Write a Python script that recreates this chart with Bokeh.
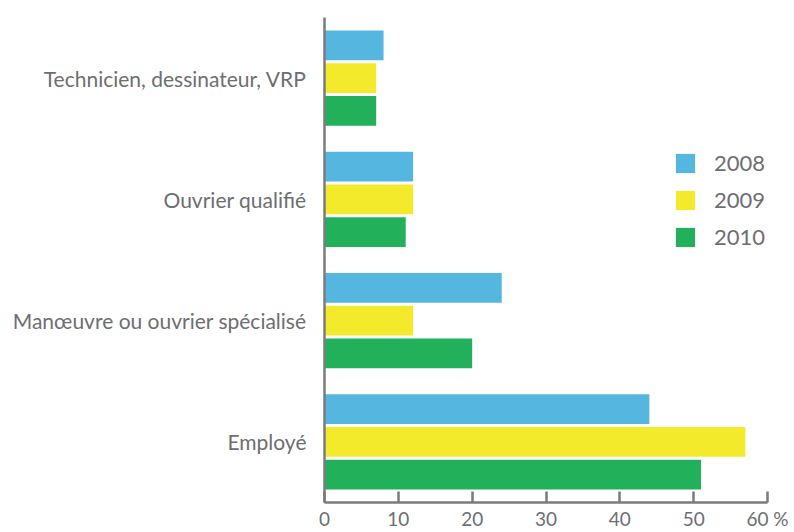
from bokeh.plotting import figure
from bokeh.models import FactorRange, Range1d, Legend, LegendItem, ColumnDataSource, FixedTicker
from bokeh.transform import dodge
from bokeh.embed import file_html
from bokeh.resources import INLINE

categories = ["Technicien, dessinateur, VRP", "Ouvrier qualifié",
              "Manœuvre ou ouvrier spécialisé", "Employé"]
years = ["2008", "2009", "2010"]
v2008 = [8, 12, 24, 44]
v2009 = [7, 12, 12, 57]
v2010 = [7, 11, 20, 51]
x_ticks = [0, 10, 20, 30, 40, 50, 60]
x_tick_labels = ["0", "10", "20", "30", "40", "50", "60 %"]
colors = ["#55b6e0", "#f3ea2c", "#22b15a"]

FONT = "Lato"
TEXT = "#6d6e71"
AXIS = "#7a7b7e"

src = ColumnDataSource(dict(cat=categories, y2008=v2008, y2009=v2009, y2010=v2010))

p = figure(width=794, height=532,
           y_range=FactorRange(factors=list(reversed(categories)), range_padding=0),
           x_range=Range1d(0, 60),
           output_backend="svg", toolbar_location=None,
           min_border_left=324, min_border_right=27, min_border_top=17, min_border_bottom=0)

offsets = [0.27, 0.0, -0.27]
renderers = []
for yr, col, off in zip(years, colors, offsets):
    r = p.hbar(y=dodge("cat", off, range=p.y_range), left=0, right="y" + yr,
               height=0.247, source=src, fill_color=col, line_color=None)
    renderers.append(r)

legend = Legend(items=[LegendItem(label=yr, renderers=[r]) for yr, r in zip(years, renderers)],
                location=(349, 252), glyph_width=24, glyph_height=24, spacing=10,
                label_standoff=17, padding=0, margin=0,
                label_text_font=FONT, label_text_font_size="22px", label_text_color=TEXT,
                border_line_color=None, background_fill_alpha=0)
p.add_layout(legend)

p.xgrid.visible = False
p.ygrid.visible = False
p.outline_line_color = None

xa = p.xaxis[0]
xa.ticker = FixedTicker(ticks=x_ticks)
xa.major_label_overrides = {t: s for t, s in zip(x_ticks, x_tick_labels)}
xa.bounds = (0, 60)
xa.axis_line_color = AXIS
xa.axis_line_width = 2.5
xa.major_tick_line_color = AXIS
xa.major_tick_line_width = 2.5
xa.major_tick_in = 11
xa.major_tick_out = 0
xa.minor_tick_line_color = None
xa.major_label_text_font = FONT
xa.major_label_text_font_size = "19px"
xa.major_label_text_color = TEXT
xa.major_label_standoff = 4

ya = p.yaxis[0]
ya.axis_line_color = AXIS
ya.axis_line_width = 2.5
ya.major_tick_line_color = None
ya.minor_tick_line_color = None
ya.major_label_text_font = FONT
ya.major_label_text_font_size = "21px"
ya.major_label_text_color = TEXT
ya.major_label_standoff = 12

open("out.html", "w").write(file_html(p, INLINE))
